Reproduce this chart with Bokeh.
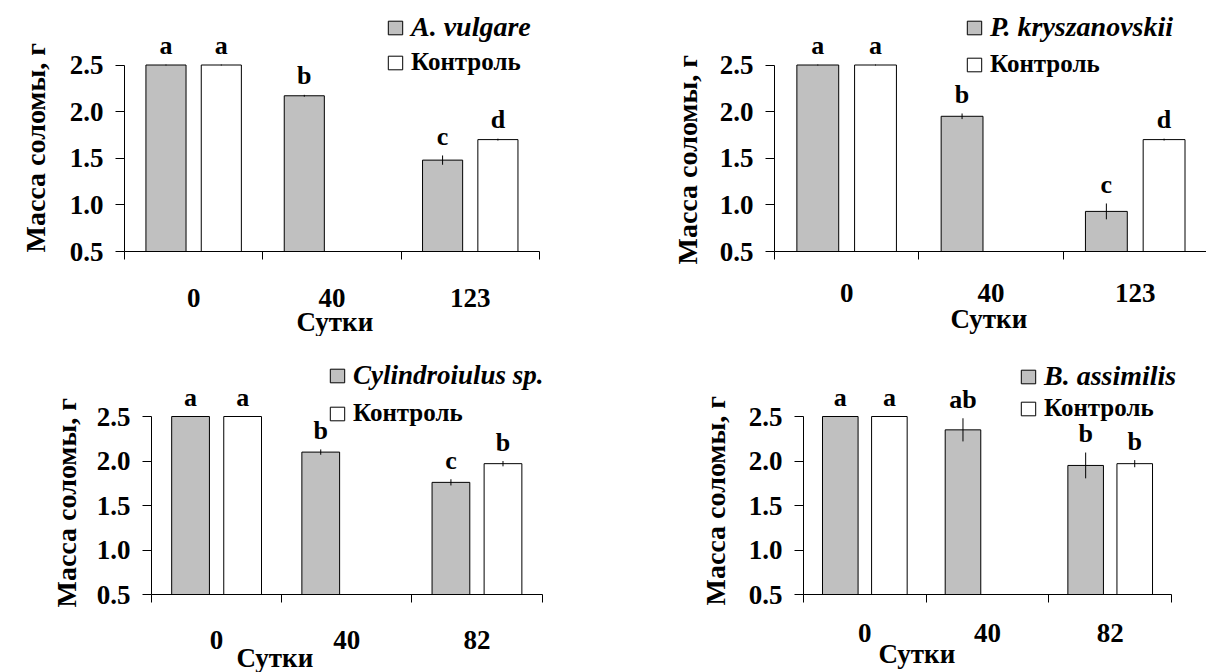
from bokeh.plotting import figure
from bokeh.layouts import column, row
from bokeh.models import FixedTicker, Legend, LegendItem, Title, PrintfTickFormatter
from bokeh.core.properties import value
from bokeh.embed import file_html
from bokeh.resources import INLINE

# ---------------- data ----------------
days_top = ["0", "40", "123"]
days_bottom = ["0", "40", "82"]
control_label = "Контроль"
x_title = "Сутки"
y_title = "Масса соломы, г"
y_ticks = [0.5, 1.0, 1.5, 2.0, 2.5]

av_name = "A. vulgare"
av_mass = [2.50, 2.17, 1.48]
av_err = [0.005, 0.01, 0.05]
av_ctrl = [2.50, None, 1.70]
av_ctrl_err = [0.005, None, 0.01]
av_letters = ["a", "b", "c"]
av_ctrl_letters = ["a", None, "d"]

pk_name = "P. kryszanovskii"
pk_mass = [2.50, 1.95, 0.93]
pk_err = [0.005, 0.03, 0.085]
pk_ctrl = [2.50, None, 1.70]
pk_ctrl_err = [0.005, None, 0.01]
pk_letters = ["a", "b", "c"]
pk_ctrl_letters = ["a", None, "d"]

cy_name = "Cylindroiulus sp."
cy_mass = [2.50, 2.10, 1.76]
cy_err = [0.005, 0.03, 0.035]
cy_ctrl = [2.50, None, 1.97]
cy_ctrl_err = [0.005, None, 0.03]
cy_letters = ["a", "b", "c"]
cy_ctrl_letters = ["a", None, "b"]

ba_name = "B. assimilis"
ba_mass = [2.50, 2.35, 1.95]
ba_err = [0.005, 0.13, 0.145]
ba_ctrl = [2.50, None, 1.97]
ba_ctrl_err = [0.005, None, 0.04]
ba_letters = ["a", "ab", "b"]
ba_ctrl_letters = ["a", None, "b"]

# ---------------- style ----------------
FONT = "Liberation Serif"
GRAY = "#C0C0C0"


def make_panel(days, mass, err, ctrl, ctrl_err, letters, ctrl_letters, name, cfg):
    p = figure(width=cfg["w"], height=cfg["h"],
               x_range=(0, cfg["x_end"]), y_range=(0.5, cfg["y_end"]),
               output_backend="svg", toolbar_location=None,
               min_border_left=cfg["bl"], min_border_right=cfg["br"],
               min_border_top=cfg["bt"], min_border_bottom=cfg["bb"])
    p.outline_line_color = None
    p.xgrid.visible = False
    p.ygrid.visible = False
    p.background_fill_color = "white"
    p.border_fill_color = "white"

    n = len(days)
    gx = [i + 0.3 for i in range(n)]
    cx = [i + 0.7 for i in range(n)]

    r_g = p.vbar(x=gx, top=mass, bottom=0.5, width=0.29,
                 fill_color=GRAY, line_color="black", line_width=1)
    p.segment(x0=gx, y0=[m - e for m, e in zip(mass, err)],
              x1=gx, y1=[m + e for m, e in zip(mass, err)],
              line_color="black", line_width=1)

    cxs = [x for x, v in zip(cx, ctrl) if v is not None]
    cvs = [v for v in ctrl if v is not None]
    ces = [e for e in ctrl_err if e is not None]
    r_c = p.vbar(x=cxs, top=cvs, bottom=0.5, width=0.29,
                 fill_color="white", line_color="black", line_width=1)
    p.segment(x0=cxs, y0=[m - e for m, e in zip(cvs, ces)],
              x1=cxs, y1=[m + e for m, e in zip(cvs, ces)],
              line_color="black", line_width=1)

    # significance letters above the error bars
    lx = gx + cxs
    ly = [m + e for m, e in zip(mass, err)] + [m + e for m, e in zip(cvs, ces)]
    lt = letters + [t for t in ctrl_letters if t is not None]
    p.text(x=lx, y=ly, text=lt, y_offset=-19, text_align="center",
           text_baseline="alphabetic", text_font=value(FONT),
           text_font_style="bold", text_font_size="26px", text_color="black")

    # y axis
    yax = p.yaxis[0]
    yax.ticker = FixedTicker(ticks=y_ticks)
    yax.bounds = (0.5, 2.5)
    yax.formatter = PrintfTickFormatter(format="%.1f")
    yax.major_tick_out = 9
    yax.major_tick_in = 0
    yax.minor_tick_out = 0
    yax.minor_tick_in = 0
    yax.major_label_standoff = 12
    yax.major_label_text_font = FONT
    yax.major_label_text_font_style = "bold"
    yax.major_label_text_font_size = "27px"
    yax.major_label_text_color = "black"
    yax.axis_line_color = "black"
    yax.major_tick_line_color = "black"

    p.add_layout(Title(text=y_title, align="left", offset=cfg["yoff"],
                       vertical_align="top", standoff=cfg["yls"],
                       text_font=FONT, text_font_style="bold",
                       text_font_size="28px", text_color="black"), "left")

    # x axis: group boundaries as (minor) tick marks, day labels at group centres
    xax = p.xaxis[0]
    xax.ticker = FixedTicker(ticks=[i + 0.5 for i in range(n)],
                             minor_ticks=[i for i in range(n + 1)])
    xax.bounds = (0, min(n, cfg["x_end"]))
    xax.major_label_overrides = {i + 0.5: d for i, d in enumerate(days)}
    xax.major_tick_out = 0
    xax.major_tick_in = 0
    xax.minor_tick_out = 8
    xax.minor_tick_in = 0
    xax.minor_tick_line_color = "black"
    xax.axis_line_color = "black"
    xax.major_label_standoff = cfg["xls"]
    xax.major_label_text_font = FONT
    xax.major_label_text_font_style = "bold"
    xax.major_label_text_font_size = "27px"
    xax.major_label_text_color = "black"

    p.add_layout(Title(text=x_title, align="left", offset=cfg["toff"],
                       standoff=cfg["tstand"], text_font=FONT, text_font_style="bold",
                       text_font_size="27px", text_color="black"), "below")

    for label, rend, style, size, loc in [
            (name, r_g, "bold italic", cfg["sp_size"], cfg["leg1"]),
            (control_label, r_c, "bold", "25px", cfg["leg2"])]:
        lg = Legend(items=[LegendItem(label=label, renderers=[rend])],
                    location=loc, orientation="vertical",
                    glyph_width=18, glyph_height=17, label_standoff=7,
                    label_height=17, padding=0, margin=0, spacing=0,
                    border_line_alpha=0, background_fill_alpha=0,
                    label_text_font=FONT, label_text_font_style=style,
                    label_text_font_size=size, label_text_color="black")
        p.add_layout(lg)
    return p


cfg1 = dict(w=603, h=336, bl=124, br=0, bt=8, bb=85, x_end=3.4635, y_end=3.106,
            yls=28, yoff=-1, xls=29, toff=172, tstand=-9,
            sp_size="28px", leg1=(262, 208), leg2=(262, 175))
cfg2 = dict(w=603, h=336, bl=171, br=0, bt=8, bb=85, x_end=2.994, y_end=3.106,
            yls=23, yoff=-13, xls=24, toff=176, tstand=-6,
            sp_size="28px", leg1=(191, 208), leg2=(191, 173))
cfg3 = dict(w=603, h=336, bl=151, br=0, bt=8, bb=78, x_end=3.472, y_end=3.309,
            yls=19, yoff=-13, xls=28, toff=85, tstand=-21,
            sp_size="27px", leg1=(177, 203), leg2=(177, 167))
cfg4 = dict(w=603, h=336, bl=200, br=0, bt=8, bb=78, x_end=3.285, y_end=3.309,
            yls=25, yoff=-11, xls=21, toff=75, tstand=-15,
            sp_size="28px", leg1=(216, 202), leg2=(216, 172))

p1 = make_panel(days_top, av_mass, av_err, av_ctrl, av_ctrl_err, av_letters, av_ctrl_letters, av_name, cfg1)
p2 = make_panel(days_top, pk_mass, pk_err, pk_ctrl, pk_ctrl_err, pk_letters, pk_ctrl_letters, pk_name, cfg2)
p3 = make_panel(days_bottom, cy_mass, cy_err, cy_ctrl, cy_ctrl_err, cy_letters, cy_ctrl_letters, cy_name, cfg3)
p4 = make_panel(days_bottom, ba_mass, ba_err, ba_ctrl, ba_ctrl_err, ba_letters, ba_ctrl_letters, ba_name, cfg4)

layout = column(row(p1, p2), row(p3, p4))
open("out.html", "w").write(file_html(layout, INLINE))
